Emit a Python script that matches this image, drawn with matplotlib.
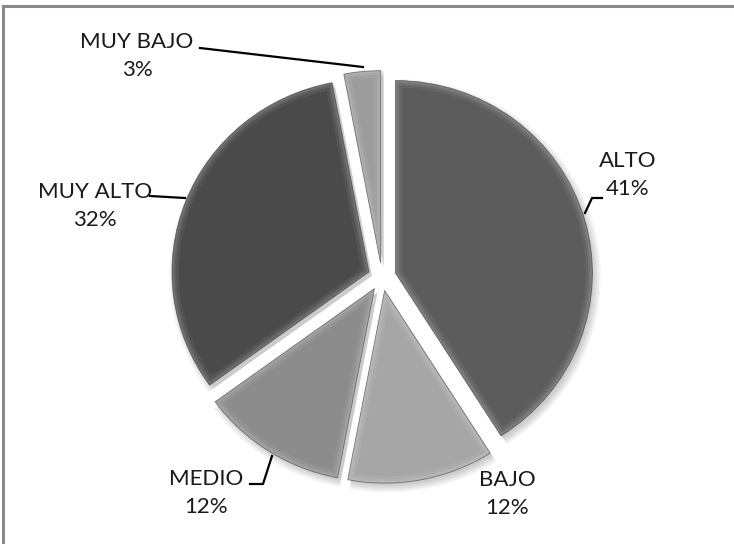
import matplotlib
matplotlib.use("Agg")
import matplotlib.pyplot as plt
from matplotlib.patches import Wedge
from matplotlib.lines import Line2D
from matplotlib.transforms import Affine2D

W, H = 734, 544

categorias = ["ALTO", "BAJO", "MEDIO", "MUY ALTO", "MUY BAJO"]
porcentajes = [41, 12, 12, 32, 3]
colores = ["#5c5c5c", "#a6a6a6", "#8c8c8c", "#4a4a4a", "#9c9c9c"]

# label block centres (pixels, y downwards) and leader polylines
pos_etiquetas = {
    "ALTO": (628, 175),
    "BAJO": (507, 494),
    "MEDIO": (206, 493),
    "MUY ALTO": (95, 206),
    "MUY BAJO": (137, 56),
}
guias = {
    "ALTO": [(602, 198), (592, 198), (585, 213)],
    "MEDIO": [(250, 484), (263, 484), (272, 456)],
    "MUY ALTO": [(150, 196), (185, 198)],
    "MUY BAJO": [(200, 48), (363, 67)],
}


def py(y):
    return H - y


fig = plt.figure(figsize=(W / 100, H / 100), dpi=100)
ax = fig.add_axes([0, 0, 1, 1])

centro = (382, py(277))
radio = 197
sep = 14  # pie() offsets slices by this many data units
aplanado = 0.978  # pie is drawn slightly squashed vertically

wedges, _ = ax.pie(porcentajes, colors=colores, startangle=90, counterclock=False,
                   explode=[sep] * len(porcentajes), center=centro, radius=radio,
                   frame=True, wedgeprops=dict(linewidth=0, zorder=3))
ax.set_xlim(0, W)
ax.set_ylim(0, H)
ax.axis("off")

tr = (Affine2D().translate(-centro[0], -centro[1]).scale(1, aplanado)
      .translate(centro[0], centro[1]) + ax.transData)
for w in wedges:
    w.set_transform(tr)

# soft drop shadow under each slice
for w in wedges:
    cx, cy = w.center
    for k in range(6):
        sh = Wedge((cx + 3, cy - 4), w.r + 1.5 * k - 2, w.theta1, w.theta2,
                   facecolor="black", edgecolor="none", alpha=0.035, zorder=1,
                   transform=tr)
        ax.add_patch(sh)

# bevel: lighter rim inside each slice, darker outline
for w in wedges:
    cx, cy = w.center
    for lw, a in [(10, 0.06), (6, 0.08), (3, 0.10)]:
        rim = Wedge((cx, cy), w.r, w.theta1, w.theta2, facecolor="none",
                    edgecolor="white", linewidth=lw, alpha=a, zorder=4,
                    transform=tr)
        ax.add_patch(rim)
        rim.set_clip_path(w)
    borde = Wedge((cx, cy), w.r, w.theta1, w.theta2, facecolor="none",
                  edgecolor="#3a3a3a", linewidth=0.6, alpha=0.6, zorder=5,
                  transform=tr)
    ax.add_patch(borde)

for cat, pct in zip(categorias, porcentajes):
    x, y = pos_etiquetas[cat]
    ax.text(x, py(y), f"{cat}\n{pct}%", ha="center", va="center",
            multialignment="center", fontsize=16, family="Lato",
            color="#1a1a1a", linespacing=1.45, zorder=6)

for cat, pts in guias.items():
    xs = [p[0] for p in pts]
    ys = [py(p[1]) for p in pts]
    ax.add_line(Line2D(xs, ys, color="black", linewidth=1.6, zorder=6))

# frame lines along top and left
ax.add_line(Line2D([3, W], [py(6), py(6)], color="#8a8a8a", linewidth=2.2))
ax.add_line(Line2D([3, 3], [py(6), 0], color="#8a8a8a", linewidth=2.2))

fig.savefig("out.png", dpi=100, facecolor="white")
